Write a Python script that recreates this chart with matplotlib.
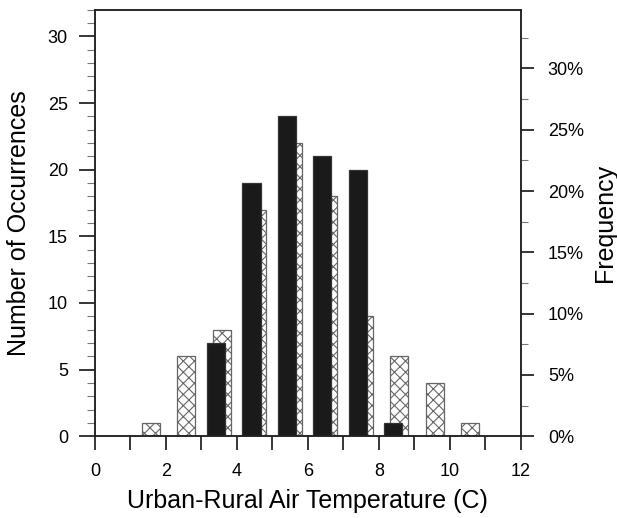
import numpy as np
import matplotlib.pyplot as plt
from matplotlib.ticker import MultipleLocator, FuncFormatter

plt.rcParams['font.family'] = ['Liberation Sans', 'DejaVu Sans']
plt.rcParams['hatch.linewidth'] = 0.8

# bin centres (C) and counts
bins = [1.5, 2.5, 3.5, 4.5, 5.5, 6.5, 7.5, 8.5, 9.5, 10.5]
black_counts = [0, 0, 7, 19, 24, 21, 20, 1, 0, 0]
hatch_counts = [1, 6, 8, 17, 22, 18, 9, 6, 4, 1]
total = 92

x = np.array(bins)
fig = plt.figure(figsize=(6.17, 5.18), dpi=100)
ax = fig.add_axes([0.154, 0.158, 0.690, 0.823])

# hatched series behind, black in front
hb = [(xi, c) for xi, c in zip(x, hatch_counts) if c > 0]
ax.bar([p[0] + 0.075 for p in hb], [p[1] for p in hb], width=0.51,
       color='white', edgecolor='#666666', hatch='xxx', linewidth=0.9, zorder=2)
bb = [(xi, c) for xi, c in zip(x, black_counts) if c > 0]
ax.bar([p[0] - 0.09 for p in bb], [p[1] for p in bb], width=0.51,
       color='#1a1a1a', edgecolor='#333333', linewidth=0.9, zorder=3)

ax.set_xlim(0, 12)
ax.set_ylim(0, 32)
ax.xaxis.set_major_locator(MultipleLocator(1))
ax.xaxis.set_major_formatter(FuncFormatter(lambda v, p: '%d' % v if int(v) % 2 == 0 else ''))
ax.yaxis.set_major_locator(MultipleLocator(5))
ax.yaxis.set_minor_locator(MultipleLocator(1))
ax.tick_params(axis='x', which='major', direction='out', length=10, width=1.1,
               labelsize=13, pad=9.5)
ax.tick_params(axis='y', which='major', direction='out', length=11.5, width=1.1,
               labelsize=13, pad=8)
ax.tick_params(axis='y', which='minor', direction='out', length=6, width=0.8,
               color='#777777')
ax.set_xlabel('Urban-Rural Air Temperature (C)', fontsize=18)
ax.xaxis.set_label_coords(0.5, -0.125)
ax.set_ylabel('Number of Occurrences', fontsize=18)
ax.yaxis.set_label_coords(-0.150, 0.5)

ax2 = ax.twinx()
ax2.set_ylim(0, 32 / total * 100)
ax2.yaxis.set_major_locator(MultipleLocator(5))
ax2.yaxis.set_minor_locator(MultipleLocator(2.5))
ax2.yaxis.set_major_formatter(FuncFormatter(lambda v, p: '%d%%' % v))
ax2.tick_params(axis='y', which='major', direction='out', length=9.5, width=1.1,
                labelsize=13, pad=10)
ax2.tick_params(axis='y', which='minor', direction='out', length=5, width=0.8,
                color='#777777')
ax2.set_ylabel('Frequency', fontsize=18)
ax2.yaxis.set_label_coords(1.170, 0.5)

for a in (ax, ax2):
    for s in a.spines.values():
        s.set_linewidth(1.1)
        s.set_color('#222222')

fig.savefig('out.png', dpi=100)
